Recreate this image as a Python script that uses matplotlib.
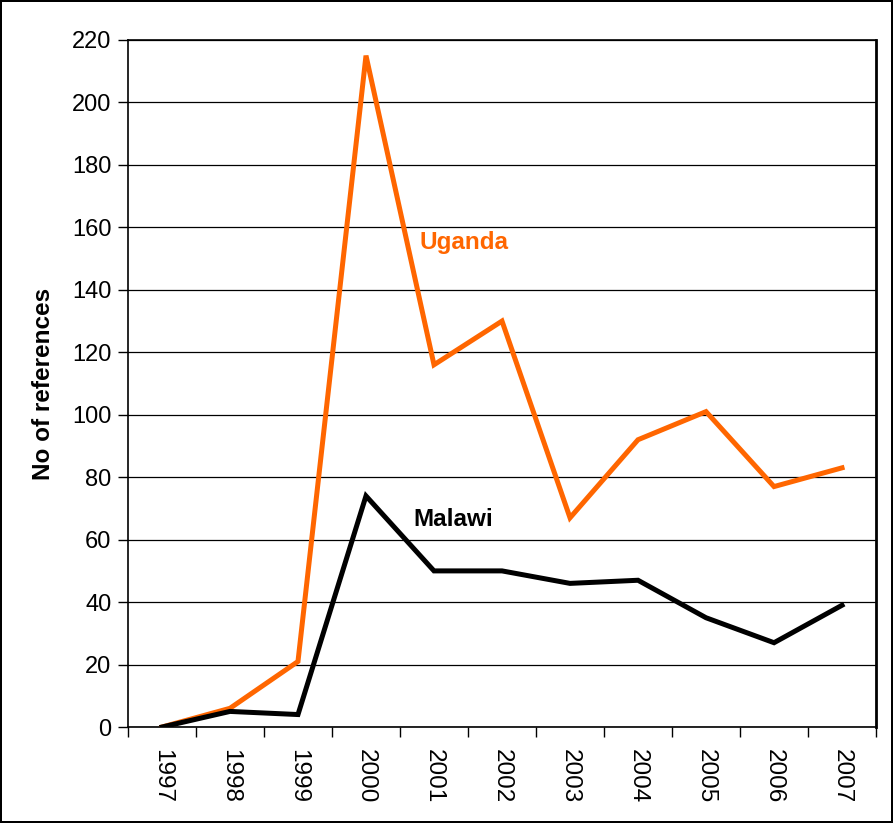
import numpy as np
import matplotlib
matplotlib.use("Agg")
import matplotlib.pyplot as plt

plt.rcParams["font.family"] = ["Liberation Sans", "DejaVu Sans"]

years = ["1997", "1998", "1999", "2000", "2001", "2002",
         "2003", "2004", "2005", "2006", "2007"]
uganda = [0, 6, 21, 215, 116, 130, 67, 92, 101, 77, 83]
malawi = [0, 5, 4, 74, 50, 50, 46, 47, 35, 27, 39]

fig = plt.figure(figsize=(8.93, 8.23), dpi=100)
fig.patch.set_edgecolor("black")
fig.patch.set_linewidth(1.5)
ax = fig.add_axes([0.1433, 0.1166, 0.981 - 0.1433, 0.9514 - 0.1166])

x = np.arange(len(years))
ax.plot(x, uganda, color="#ff6600", lw=3.6, solid_joinstyle="miter", zorder=3)
ax.plot(x, malawi, color="black", lw=3.6, solid_joinstyle="miter", zorder=3)

ax.set_xlim(-0.5, len(years) - 0.5)
ax.set_ylim(0, 220)
ax.set_yticks(range(0, 221, 20))
ax.yaxis.grid(True, color="black", lw=0.9)
ax.set_axisbelow(True)

# category axis: ticks between categories, labels at centres
ax.set_xticks(np.arange(-0.5, len(years), 1.0))
ax.set_xticklabels([])
ax.set_xticks(x, minor=True)
ax.set_xticklabels(years, minor=True, rotation=270, fontsize=17.5)
ax.tick_params(axis="x", which="minor", length=0, pad=16)
ax.tick_params(axis="x", which="major", length=7, width=1, direction="out")
ax.tick_params(axis="y", length=7, width=1, labelsize=17, pad=5)

for side in ["left", "bottom"]:
    ax.spines[side].set_linewidth(1.2)
ax.spines["right"].set_linewidth(2)
ax.spines["top"].set_linewidth(1.2)

ax.set_ylabel("No of references", fontsize=17.5, fontweight="bold", labelpad=12)

ax.text(4.44, 155.3, "Uganda", color="#ff6600", fontsize=17.5, fontweight="bold",
        ha="center", va="center")
ax.text(4.29, 66.3, "Malawi", color="black", fontsize=17.5, fontweight="bold",
        ha="center", va="center")

fig.savefig("out.png", dpi=100, edgecolor=fig.get_edgecolor())
